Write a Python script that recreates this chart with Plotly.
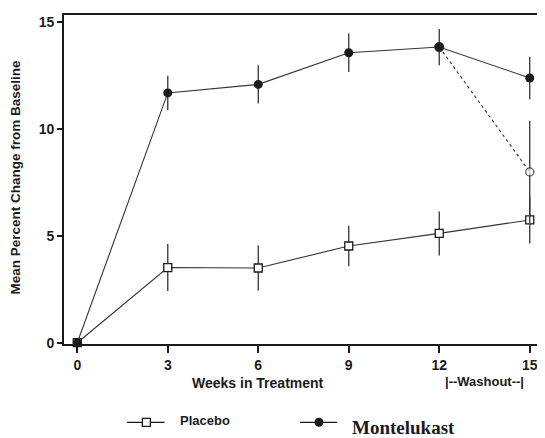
import plotly.graph_objects as go

weeks = [0, 3, 6, 9, 12, 15]
placebo = [0, 3.52, 3.5, 4.53, 5.12, 5.75]
placebo_err = [0, 1.1, 1.05, 0.95, 1.03, 1.1]
montelukast = [0, 11.7, 12.1, 13.58, 13.85, 12.4]
montelukast_err = [0, 0.8, 0.9, 0.9, 0.85, 1.0]
washout_weeks = [12, 15]
washout = [13.85, 8.0]
washout_err = [0, 2.4]
y_ticks = [0, 5, 10, 15]

ink = "#1a1a1a"
sans = "Liberation Sans, Arial"
fig = go.Figure()

fig.add_trace(go.Scatter(
    x=weeks, y=placebo, mode="lines+markers", name="Placebo",
    line=dict(color="#333", width=1.1),
    marker=dict(symbol="square", size=8, color="white", line=dict(width=1.3, color=ink)),
    error_y=dict(type="data", array=placebo_err, color="#333", thickness=1.3, width=0),
    cliponaxis=False, showlegend=False))

fig.add_trace(go.Scatter(
    x=washout_weeks, y=washout, mode="lines+markers", name="Washout",
    line=dict(color="#333", width=1.1, dash="dot"),
    marker=dict(symbol="circle", size=[9, 8], color=[ink, "white"], line=dict(width=1.3, color=ink)),
    error_y=dict(type="data", array=washout_err, color="#333", thickness=1.3, width=0),
    cliponaxis=False, showlegend=False))

fig.add_trace(go.Scatter(
    x=weeks, y=montelukast, mode="lines+markers", name="Montelukast",
    line=dict(color="#333", width=1.1),
    marker=dict(symbol="circle", size=9, color=ink),
    error_y=dict(type="data", array=montelukast_err, color="#333", thickness=1.3, width=0),
    cliponaxis=False, showlegend=False))

fig.update_xaxes(range=[-0.44, 15.34], tickvals=weeks, ticktext=["<b>%d</b>" % w for w in weeks],
                 ticks="outside", ticklen=7, tickwidth=1.5, tickcolor=ink,
                 showline=True, linecolor=ink, linewidth=1.6, mirror=True,
                 showgrid=False, zeroline=False,
                 tickfont=dict(family=sans, size=14, color=ink))
fig.update_yaxes(range=[-0.06, 15.35], tickvals=y_ticks, ticktext=["<b>%d</b>" % t for t in y_ticks],
                 ticks="outside", ticklen=5, tickwidth=1.5, tickcolor=ink,
                 showline=True, linecolor=ink, linewidth=1.6, mirror=True,
                 showgrid=False, zeroline=False,
                 tickfont=dict(family=sans, size=14, color=ink))


def px(x):
    return (x - 64) / 478


def py(y):
    return (344 - y) / 329


# axis titles
fig.add_annotation(xref="paper", yref="paper", x=px(15.7), y=py(176.7), xanchor="center", yanchor="middle",
                   text="<b>Mean Percent Change from Baseline</b>", textangle=-90, showarrow=False,
                   font=dict(family=sans, size=13.5, color=ink))
fig.add_annotation(xref="paper", yref="paper", x=px(259), y=py(382.7), xanchor="center", yanchor="middle",
                   text="<b>Weeks in Treatment</b>", showarrow=False,
                   font=dict(family=sans, size=14, color=ink))
fig.add_annotation(xref="paper", yref="paper", x=px(486), y=py(381.7), xanchor="center", yanchor="middle",
                   text="<b>|--Washout--|</b>", showarrow=False,
                   font=dict(family=sans, size=13, color=ink))

# custom legend
fig.add_shape(type="line", xref="paper", yref="paper", x0=px(127.3), x1=px(165),
              y0=py(422.3), y1=py(422.3), line=dict(color=ink, width=1.3))
fig.add_shape(type="rect", xref="paper", yref="paper", x0=px(142.7), x1=px(150.7),
              y0=py(426.3), y1=py(418.3), fillcolor="white", line=dict(color=ink, width=1.3))
fig.add_annotation(xref="paper", yref="paper", x=px(178), y=py(420.7), xanchor="left", yanchor="middle",
                   text="<b>Placebo</b>", showarrow=False,
                   font=dict(family=sans, size=13, color=ink))
fig.add_shape(type="line", xref="paper", yref="paper", x0=px(301), x1=px(338.3),
              y0=py(422.3), y1=py(422.3), line=dict(color=ink, width=1.3))
fig.add_shape(type="circle", xref="paper", yref="paper", x0=px(315.5), x1=px(324.5),
              y0=py(426.8), y1=py(417.8), fillcolor=ink, line=dict(color=ink, width=0))
fig.add_annotation(xref="paper", yref="paper", x=px(351), y=py(427.5), xanchor="left", yanchor="middle",
                   text="<b>Montelukast</b>", showarrow=False,
                   font=dict(family="Liberation Serif, Times New Roman", size=19, color=ink))

fig.update_layout(width=537, height=430, margin=dict(l=56, r=3, t=7, b=94),
                  plot_bgcolor="white", paper_bgcolor="white", showlegend=False)
fig.write_html("out.html")
